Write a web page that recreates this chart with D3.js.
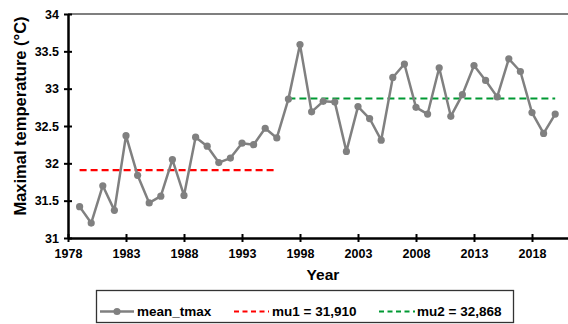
<!DOCTYPE html>
<html>
<head>
<meta charset="utf-8">
<script src="https://cdn.jsdelivr.net/npm/d3@7"></script>
<style>
    body { margin: 0; background: #fff; }
    svg { display: block; font-family: "Liberation Sans", Arial, sans-serif; font-weight: bold; }
</style>
</head>
<body>
<script>
(function () {

    //data
    var years = [1979, 1980, 1981, 1982, 1983, 1984, 1985, 1986, 1987, 1988,
        1989, 1990, 1991, 1992, 1993, 1994, 1995, 1996, 1997, 1998,
        1999, 2000, 2001, 2002, 2003, 2004, 2005, 2006, 2007, 2008,
        2009, 2010, 2011, 2012, 2013, 2014, 2015, 2016, 2017, 2018,
        2019, 2020];
    var meanTmax = [31.42, 31.20, 31.70, 31.37, 32.37, 31.84, 31.47, 31.56, 32.05, 31.57,
        32.35, 32.23, 32.01, 32.07, 32.27, 32.25, 32.47, 32.34, 32.86, 33.59,
        32.69, 32.83, 32.82, 32.16, 32.76, 32.60, 32.31, 33.15, 33.33, 32.75,
        32.66, 33.28, 32.63, 32.92, 33.31, 33.11, 32.89, 33.40, 33.23, 32.68,
        32.40, 32.66];
    var mu1 = 31.910, mu1Years = [1979, 1996];
    var mu2 = 32.868, mu2Years = [1997, 2020];
    var xTicks = [1978, 1983, 1988, 1993, 1998, 2003, 2008, 2013, 2018];
    var yTicks = [31, 31.5, 32, 32.5, 33, 33.5, 34];
    var legendLabels = ["mean_tmax", "mu1 = 31,910", "mu2 = 32,868"];

    var width = 568, height = 324;
    var left = 68, top = 14, bottom = 238;
    var tickFont = "12.5px";

    var svg = d3.select("body").append("svg")
        .attr("width", width)
        .attr("height", height);

    //x axis runs past the right edge (picture is cropped there)
    var x = d3.scaleLinear().domain([1978, 2023]).range([left, left + 45 * 11.6]);
    var y = d3.scaleLinear().domain([31, 34]).range([bottom, top]);

    //top frame line
    svg.append("line")
        .attr("x1", left).attr("x2", width)
        .attr("y1", top).attr("y2", top)
        .attr("stroke", "#555").attr("stroke-width", 1.5);

    //mean lines
    svg.append("line")
        .attr("x1", x(mu1Years[0])).attr("x2", x(mu1Years[1]))
        .attr("y1", y(mu1)).attr("y2", y(mu1))
        .attr("stroke", "#ff0000").attr("stroke-width", 2.2)
        .attr("stroke-dasharray", "7,4");
    svg.append("line")
        .attr("x1", x(mu2Years[0])).attr("x2", x(mu2Years[1]))
        .attr("y1", y(mu2)).attr("y2", y(mu2))
        .attr("stroke", "#009933").attr("stroke-width", 2.2)
        .attr("stroke-dasharray", "7,4");

    //series
    var pts = years.map(function (d, i) { return [d, meanTmax[i]]; });
    var line = d3.line()
        .x(function (d) { return x(d[0]); })
        .y(function (d) { return y(d[1]); });
    svg.append("path")
        .datum(pts)
        .attr("d", line)
        .attr("fill", "none")
        .attr("stroke", "#808080")
        .attr("stroke-width", 2.5)
        .attr("stroke-linejoin", "round");
    svg.selectAll(".pt")
        .data(pts)
        .enter()
        .append("circle")
        .attr("class", "pt")
        .attr("cx", function (d) { return x(d[0]); })
        .attr("cy", function (d) { return y(d[1]); })
        .attr("r", 3.6)
        .attr("fill", "#808080");

    //axes
    var xAxis = svg.append("g")
        .attr("transform", "translate(0," + bottom + ")")
        .call(d3.axisBottom(x).tickValues(xTicks).tickFormat(d3.format("d")).tickSizeInner(4).tickSizeOuter(0).tickPadding(7));
    xAxis.select(".domain").attr("stroke", "#000").attr("stroke-width", 2.5);
    xAxis.selectAll(".tick line").attr("stroke", "#000").attr("stroke-width", 2).attr("y1", -4);
    xAxis.selectAll(".tick text").attr("fill", "#000").style("font-size", tickFont).style("font-weight", "bold")
        .style("font-family", "'Liberation Sans', Arial, sans-serif");

    var yAxis = svg.append("g")
        .attr("transform", "translate(" + left + ",0)")
        .call(d3.axisLeft(y).tickValues(yTicks).tickFormat(d3.format("")).tickSizeInner(4).tickSizeOuter(0).tickPadding(5));
    yAxis.select(".domain").attr("stroke", "#000").attr("stroke-width", 2.5);
    yAxis.selectAll(".tick line").attr("stroke", "#000").attr("stroke-width", 2).attr("x2", 4).attr("x1", -4);
    yAxis.selectAll(".tick text").attr("fill", "#000").style("font-size", tickFont).style("font-weight", "bold")
        .style("font-family", "'Liberation Sans', Arial, sans-serif");

    //axis titles
    svg.append("text")
        .attr("x", 323).attr("y", 280)
        .attr("text-anchor", "middle")
        .style("font-size", "15.5px")
        .text("Year");
    svg.append("text")
        .attr("transform", "translate(26,116) rotate(-90)")
        .attr("text-anchor", "middle")
        .style("font-size", "16.5px")
        .text("Maximal temperature (°C)");

    //legend
    var legend = svg.append("g");
    legend.append("rect")
        .attr("x", 96.5).attr("y", 290.5)
        .attr("width", 417).attr("height", 32)
        .attr("fill", "#fff").attr("stroke", "#333").attr("stroke-width", 1.3);
    var ly = 311.5;
    legend.append("line")
        .attr("x1", 100).attr("x2", 134).attr("y1", ly).attr("y2", ly)
        .attr("stroke", "#808080").attr("stroke-width", 2.5);
    legend.append("circle")
        .attr("cx", 117).attr("cy", ly).attr("r", 3.6).attr("fill", "#808080");
    legend.append("line")
        .attr("x1", 234).attr("x2", 269).attr("y1", ly).attr("y2", ly)
        .attr("stroke", "#ff0000").attr("stroke-width", 2.2).attr("stroke-dasharray", "5,3.5");
    legend.append("line")
        .attr("x1", 379).attr("x2", 415).attr("y1", ly).attr("y2", ly)
        .attr("stroke", "#009933").attr("stroke-width", 2.2).attr("stroke-dasharray", "5,3.5");
    var lx = [137, 272, 417];
    legend.selectAll(".ltxt")
        .data(legendLabels)
        .enter()
        .append("text")
        .attr("class", "ltxt")
        .attr("x", function (d, i) { return lx[i]; })
        .attr("y", ly + 4.5)
        .style("font-size", "13.5px")
        .text(function (d) { return d; });
})();
</script>
</body>
</html>
